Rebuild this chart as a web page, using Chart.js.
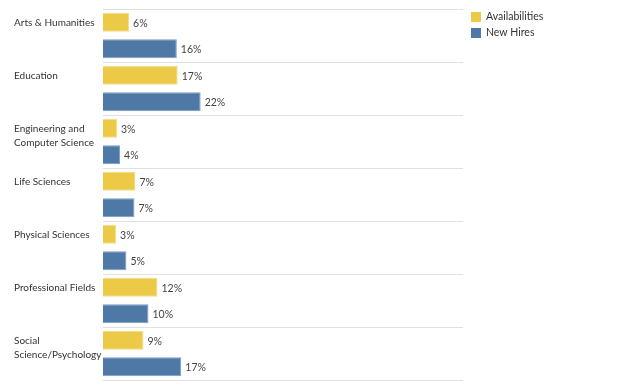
<!DOCTYPE html>
<html>
<head>
<meta charset="utf-8">
<script src="https://cdn.jsdelivr.net/npm/chart.js@4"></script>
<style>
	html, body { margin: 0; padding: 0; background: #fff; }
	#wrap { position: relative; width: 624px; height: 390px; }
</style>
</head>
<body>
<div id="wrap"><canvas id="chart"></canvas></div>
<script>
const categories = [
	["Arts & Humanities"],
	["Education"],
	["Engineering and", "Computer Science"],
	["Life Sciences"],
	["Physical Sciences"],
	["Professional Fields"],
	["Social", "Science/Psychology"],
];
const availabilities = [5.8, 16.6, 3.1, 7.2, 2.9, 12.1, 9.0];
const newHires = [16.4, 21.7, 3.8, 7.0, 5.2, 10.1, 17.4];
const seriesNames = ["Availabilities", "New Hires"];
const seriesColors = ["#edc948", "#4e79a7"];

const FONT = "Lato, 'Open Sans', sans-serif";

// value labels at the end of each bar
const valueLabels = {
	id: "valueLabels",
	afterDatasetsDraw(chart) {
		const ctx = chart.ctx;
		ctx.save();
		ctx.font = "10.5px " + FONT;
		ctx.fillStyle = "#444";
		ctx.textAlign = "left";
		ctx.textBaseline = "middle";
		chart.data.datasets.forEach((ds, di) => {
			chart.getDatasetMeta(di).data.forEach((bar, i) => {
				ctx.fillText(Math.round(ds.data[i]) + "%", bar.x + 4, bar.y + 1);
			});
		});
		ctx.restore();
	},
};

// category names, first line lined up with the top bar of each group
const categoryLabels = {
	id: "categoryLabels",
	afterDraw(chart) {
		const ctx = chart.ctx;
		const top = chart.getDatasetMeta(0).data;
		ctx.save();
		ctx.font = "10px " + FONT;
		ctx.fillStyle = "#333";
		ctx.textAlign = "left";
		ctx.textBaseline = "middle";
		categories.forEach((lines, i) => {
			lines.forEach((line, k) => {
				ctx.fillText(line, 14, top[i].y + 1 + k * 14);
			});
		});
		ctx.restore();
	},
};

// legend in the top right corner
const sideLegend = {
	id: "sideLegend",
	afterDraw(chart) {
		const ctx = chart.ctx;
		ctx.save();
		ctx.font = "10.5px " + FONT;
		ctx.textAlign = "left";
		ctx.textBaseline = "middle";
		seriesNames.forEach((name, i) => {
			const y = 12 + i * 16;
			ctx.fillStyle = seriesColors[i];
			ctx.fillRect(471, y, 10, 10);
			ctx.fillStyle = "#333";
			ctx.fillText(name, 486, y + 5);
		});
		ctx.restore();
	},
};

new Chart(document.getElementById("chart"), {
	type: "bar",
	data: {
		labels: categories,
		datasets: [
			{
				label: seriesNames[0],
				data: availabilities,
				backgroundColor: seriesColors[0],
				borderColor: "#f3dc86",
				borderWidth: 1,
			},
			{
				label: seriesNames[1],
				data: newHires,
				backgroundColor: seriesColors[1],
				borderColor: "#7b9cc0",
				borderWidth: 1,
			},
		],
	},
	options: {
		indexAxis: "y",
		responsive: true,
		maintainAspectRatio: false,
		animation: false,
		categoryPercentage: 1.0,
		barPercentage: 0.72,
		layout: {
			padding: { left: 0, right: 161, top: 9, bottom: 10 },
		},
		plugins: {
			legend: { display: false },
			tooltip: { enabled: false },
		},
		scales: {
			x: {
				display: false,
				min: 0,
				max: 80,
			},
			y: {
				ticks: { display: false },
				border: { display: false },
				grid: {
					offset: true,
					color: "#e0e0e0",
					lineWidth: 1,
					drawTicks: false,
				},
				afterFit(scale) {
					scale.width = 103;
				},
			},
		},
	},
	plugins: [valueLabels, categoryLabels, sideLegend],
});
</script>
</body>
</html>
